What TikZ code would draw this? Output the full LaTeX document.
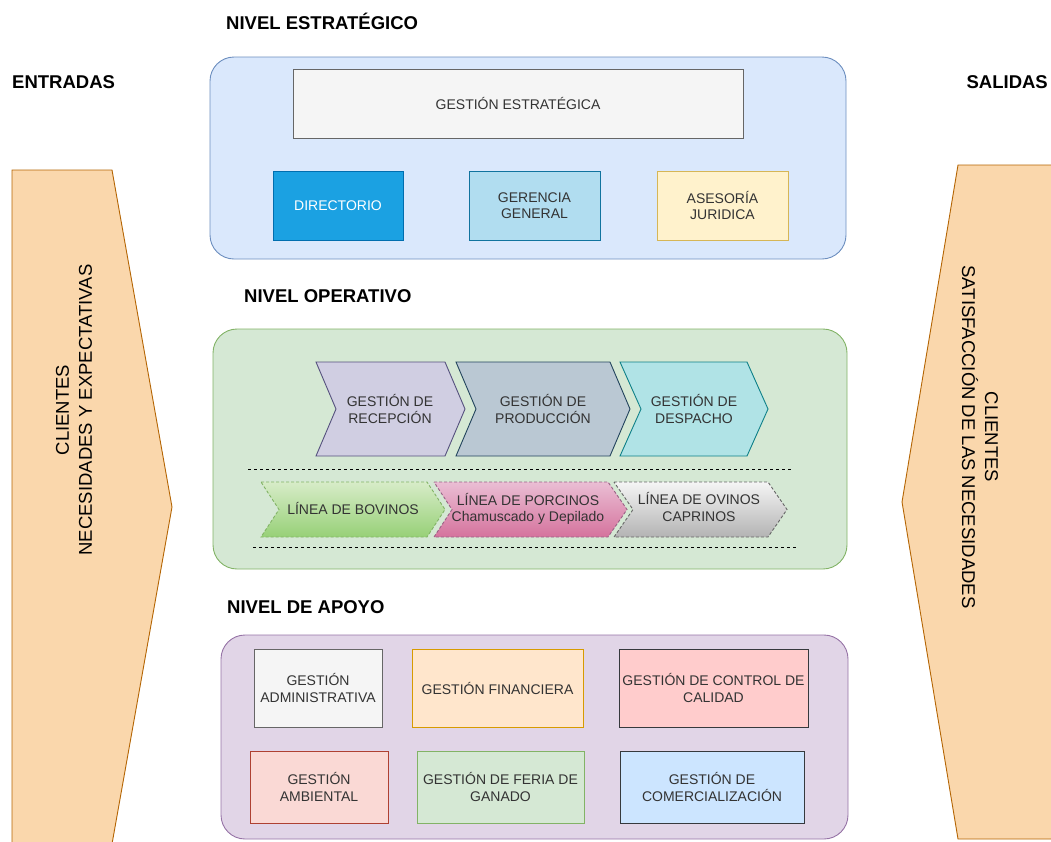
\documentclass[tikz,border=0pt]{standalone}
\usepackage{fontspec}
\setmainfont{Liberation Sans}
\definecolor{txt}{HTML}{333333}
\begin{document}
\begin{tikzpicture}[x=1pt,y=-1pt,
  lbl/.style={font=\fontsize{14}{16.5}\selectfont, text=txt, align=center, inner sep=0pt},
  sidelbl/.style={font=\fontsize{18.5}{23}\selectfont, text=black, align=center, inner sep=0pt},
  ttl/.style={font=\bfseries\fontsize{18.5}{21}\selectfont, text=black, inner sep=0pt},
  panel/.style={rounded corners=24pt, line width=0.9pt},
  box/.style={lbl, draw, line width=0.9pt, rectangle},
  outl/.style={line width=0.9pt, line join=miter},
  dotline/.style={line width=0.9pt, dash pattern=on 3pt off 3pt, draw=black},
  chev/.style={line width=0.9pt, dash pattern=on 3pt off 2pt}
]
\useasboundingbox (0,0) rectangle (1051,841);

% side arrows (inputs and outputs)
\begin{scope}
\clip (0,0) rectangle (1051,841);
\path[outl, fill={rgb,255:red,250;green,215;blue,172}, draw={rgb,255:red,180;green,101;blue,4}]
  (12,170) -- (112,170) -- (172,507) -- (112,844) -- (12,844) -- cycle;
\path[outl, fill={rgb,255:red,250;green,215;blue,172}, draw={rgb,255:red,180;green,101;blue,4}]
  (1060,165) -- (958,165) -- (902,502) -- (958,839) -- (1060,839);
\end{scope}
\node[sidelbl, rotate=90] (inL) at (74,410) {CLIENTES\\NECESIDADES Y EXPECTATIVAS};
\node[sidelbl, rotate=-90] (outR) at (980,437) {CLIENTES\\SATISFACCIÓN DE LAS NECESIDADES};

% titles
\node[ttl, anchor=west] (tEst) at (226,21) {NIVEL ESTRATÉGICO};
\node[ttl, anchor=west] (tIn) at (12,82) {ENTRADAS};
\node[ttl, anchor=east] (tOut) at (1048,82) {SALIDAS};
\node[ttl, anchor=west] (tOp) at (244,296) {NIVEL OPERATIVO};
\node[ttl, anchor=west] (tAp) at (227,607) {NIVEL DE APOYO};

% strategic level
\draw[panel, fill={rgb,255:red,218;green,232;blue,252}, draw={rgb,255:red,108;green,142;blue,191}]
  (210,57) rectangle (846,259);
\node[box, fill={rgb,255:red,245;green,245;blue,245}, draw={rgb,255:red,102;green,102;blue,102},
  minimum width=450pt, minimum height=69pt] (ge) at (518,103.5) {GESTIÓN ESTRATÉGICA};
\node[box, text=white, fill={rgb,255:red,27;green,161;blue,226}, draw={rgb,255:red,0;green,110;blue,175},
  minimum width=130pt, minimum height=69pt] (dir) at (338,205.5) {DIRECTORIO};
\node[box, fill={rgb,255:red,177;green,221;blue,240}, draw={rgb,255:red,16;green,115;blue,158},
  minimum width=131pt, minimum height=69pt] (ger) at (534.5,205.5) {GERENCIA\\GENERAL};
\node[box, fill={rgb,255:red,255;green,242;blue,204}, draw={rgb,255:red,214;green,182;blue,86},
  minimum width=131pt, minimum height=69pt] (ase) at (722.5,205.5) {ASESORÍA\\JURIDICA};

% operative level
\draw[panel, fill={rgb,255:red,213;green,232;blue,212}, draw={rgb,255:red,130;green,179;blue,102}]
  (213,329) rectangle (847,569);
\path[outl, fill={rgb,255:red,208;green,206;blue,226}, draw={rgb,255:red,86;green,81;blue,126}]
  (316,362) -- (445,362) -- (465,409) -- (445,456) -- (316,456) -- (336,409) -- cycle;
\path[outl, fill={rgb,255:red,186;green,200;blue,211}, draw={rgb,255:red,35;green,68;blue,93}]
  (456,362) -- (610,362) -- (630,409) -- (610,456) -- (456,456) -- (476,409) -- cycle;
\path[outl, fill={rgb,255:red,176;green,227;blue,230}, draw={rgb,255:red,14;green,128;blue,136}]
  (620,362) -- (747,362) -- (768,409) -- (747,456) -- (620,456) -- (641,409) -- cycle;
\node[lbl] (rec) at (390,409) {GESTIÓN DE\\RECEPCIÓN};
\node[lbl] (pro) at (543,409) {GESTIÓN DE\\PRODUCCIÓN};
\node[lbl] (des) at (694,409) {GESTIÓN DE\\DESPACHO};

\coordinate (d1a) at (248,469); \coordinate (d1b) at (791,469);
\coordinate (d2a) at (253,547); \coordinate (d2b) at (798,547);
\draw[dotline] (d1a) -- (d1b);
\draw[dotline] (d2a) -- (d2b);

\path[chev, top color={rgb,255:red,215;green,236;blue,200}, bottom color={rgb,255:red,151;green,208;blue,119},
  draw={rgb,255:red,130;green,179;blue,102}]
  (261,482) -- (427,482) -- (445,509.5) -- (427,537) -- (261,537) -- (279,509.5) -- cycle;
\path[chev, top color={rgb,255:red,234;green,190;blue,212}, bottom color={rgb,255:red,213;green,115;blue,157},
  draw={rgb,255:red,153;green,97;blue,133}]
  (434,482) -- (608,482) -- (627,509.5) -- (608,537) -- (434,537) -- (452,509.5) -- cycle;
\path[chev, top color={rgb,255:red,245;green,245;blue,245}, bottom color={rgb,255:red,179;green,179;blue,179},
  draw={rgb,255:red,102;green,102;blue,102}]
  (614,482) -- (768,482) -- (787,509.5) -- (768,537) -- (614,537) -- (633,509.5) -- cycle;
\node[lbl] (bov) at (353,508) {LÍNEA DE BOVINOS};
\node[lbl] (por) at (528,509) {LÍNEA DE PORCINOS\\Chamuscado y Depilado};
\node[lbl] (ovi) at (699,507) {LÍNEA DE OVINOS\\CAPRINOS};

% support level
\draw[panel, fill={rgb,255:red,225;green,213;blue,231}, draw={rgb,255:red,150;green,115;blue,166}]
  (221,635) rectangle (848,839);
\node[box, fill={rgb,255:red,245;green,245;blue,245}, draw={rgb,255:red,102;green,102;blue,102},
  minimum width=128pt, minimum height=78pt] (adm) at (318,688) {GESTIÓN\\ADMINISTRATIVA};
\node[box, fill={rgb,255:red,255;green,230;blue,204}, draw={rgb,255:red,215;green,155;blue,0},
  minimum width=171pt, minimum height=78pt] (fin) at (497.5,688) {GESTIÓN FINANCIERA};
\node[box, fill={rgb,255:red,255;green,204;blue,204}, draw={rgb,255:red,54;green,57;blue,61},
  minimum width=189pt, minimum height=78pt] (cal) at (713.5,688) {GESTIÓN DE CONTROL DE\\CALIDAD};
\node[box, fill={rgb,255:red,250;green,217;blue,213}, draw={rgb,255:red,174;green,65;blue,50},
  minimum width=138pt, minimum height=72pt] (amb) at (319,787) {GESTIÓN\\AMBIENTAL};
\node[box, fill={rgb,255:red,213;green,232;blue,212}, draw={rgb,255:red,130;green,179;blue,102},
  minimum width=167pt, minimum height=72pt] (fer) at (500.5,787) {GESTIÓN DE FERIA DE\\GANADO};
\node[box, fill={rgb,255:red,204;green,229;blue,255}, draw={rgb,255:red,54;green,57;blue,61},
  minimum width=184pt, minimum height=72pt] (com) at (712,787) {GESTIÓN DE\\COMERCIALIZACIÓN};
\end{tikzpicture}
\end{document}
